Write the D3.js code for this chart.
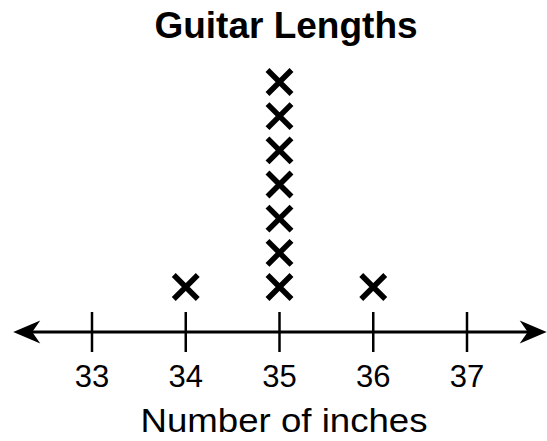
<!DOCTYPE html>
<html>
<head>
<meta charset="utf-8">
<script src="https://cdn.jsdelivr.net/npm/d3@7/dist/d3.min.js"></script>
<style>
  html, body { margin: 0; padding: 0; background: #fff; }
  svg { display: block; }
</style>
</head>
<body>
<svg id="chart" width="547" height="441"></svg>
<script>
// Guitar lengths line plot: one X per guitar above its length
const title = "Guitar Lengths";
const axisTitle = "Number of inches";
const lengths = [33, 34, 35, 36, 37];
const counts = [0, 1, 7, 1, 0];
const tickLabels = ["33", "34", "35", "36", "37"];

const svg = d3.select("#chart");
const axisY = 332;
const font = "Liberation Sans, Arial, sans-serif";

const x = d3.scaleLinear().domain([33, 37]).range([92, 467]);
const step = x(34) - x(33);
const y = d3.scaleLinear().domain([0, 6]).range([287, 82]);

// title
svg.append("text")
  .attr("x", 286).attr("y", 38)
  .attr("text-anchor", "middle")
  .attr("font-family", font)
  .attr("font-weight", "bold")
  .attr("font-size", 37)
  .attr("fill", "#000")
  .text(title);

// number line
const xStart = x(33) - step * 0.84;
const xEnd = x(37) + step * 0.85;
svg.append("line")
  .attr("x1", xStart + 8).attr("x2", xEnd - 8)
  .attr("y1", axisY).attr("y2", axisY)
  .attr("stroke", "#000").attr("stroke-width", 3);

// barbed arrowheads at both ends
function arrow(tipX, dir) {
  const len = 27, half = 11.5, notch = 19;
  const p = d3.path();
  p.moveTo(tipX, axisY);
  p.lineTo(tipX + dir * len, axisY - half);
  p.lineTo(tipX + dir * notch, axisY);
  p.lineTo(tipX + dir * len, axisY + half);
  p.closePath();
  svg.append("path").attr("d", p.toString()).attr("fill", "#000");
}
arrow(xStart, 1);
arrow(xEnd, -1);

// ticks
svg.append("g").selectAll("line")
  .data(lengths).join("line")
  .attr("x1", d => x(d)).attr("x2", d => x(d))
  .attr("y1", axisY - 20).attr("y2", axisY + 20)
  .attr("stroke", "#000").attr("stroke-width", 2.5);

// tick labels
svg.append("g").selectAll("text")
  .data(lengths).join("text")
  .attr("x", d => x(d)).attr("y", axisY + 55)
  .attr("text-anchor", "middle")
  .attr("font-family", font)
  .attr("font-size", 31)
  .attr("fill", "#000")
  .text((d, i) => tickLabels[i]);

// axis title
svg.append("text")
  .attr("x", 284).attr("y", 432)
  .attr("text-anchor", "middle")
  .attr("font-family", font)
  .attr("font-size", 34)
  .attr("textLength", 287)
  .attr("lengthAdjust", "spacingAndGlyphs")
  .attr("fill", "#000")
  .text(axisTitle);

// X marks
const marks = [];
lengths.forEach((v, i) => {
  for (let k = 0; k < counts[i]; k++) marks.push({ v, k });
});
const h = 12;
svg.append("g").selectAll("path")
  .data(marks).join("path")
  .attr("d", d => {
    const cx = x(d.v), cy = y(d.k);
    return `M${cx - h},${cy - h}L${cx + h},${cy + h}M${cx + h},${cy - h}L${cx - h},${cy + h}`;
  })
  .attr("stroke", "#000").attr("stroke-width", 5.5)
  .attr("fill", "none");
</script>
</body>
</html>
